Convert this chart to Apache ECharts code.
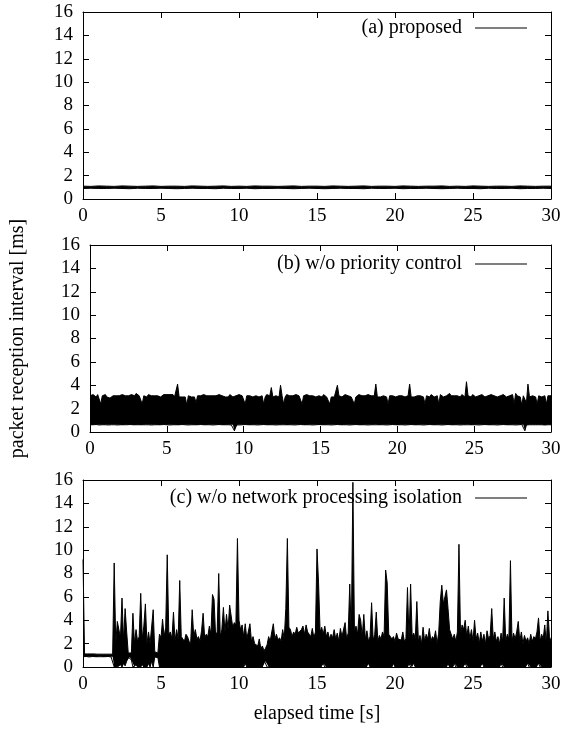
<!DOCTYPE html>
<html>
<head>
<meta charset="utf-8">
<script src="https://cdn.jsdelivr.net/npm/echarts@6/dist/echarts.min.js"></script>
<style>
  html, body { margin: 0; padding: 0; background: #fff; }
  #cn { width: 565px; height: 729px; }
</style>
</head>
<body>
<div id="cn"></div>
<script>
'use strict';

/*
 * packet reception interval, 3 panels
 * each trace is given as an envelope (min / max of the interval) per sampling step
 */

// sampling step of each envelope [s]
const stepA = 0.5;
const stepB = 0.1;
const stepC = 0.1;

// (a) proposed
const highA = [
    1.1, 1.08, 1.12, 1.1, 1.08, 1.12, 1.1, 1.08, 1.1, 1.12,
    1.08, 1.1, 1.1, 1.08, 1.12, 1.1, 1.08, 1.1, 1.12, 1.08,
    1.1, 1.08, 1.12, 1.1, 1.1, 1.08, 1.1, 1.12, 1.08, 1.1,
    1.1, 1.08, 1.12, 1.1, 1.08, 1.1, 1.12, 1.08, 1.1, 1.1,
    1.08, 1.12, 1.1, 1.08, 1.1, 1.1, 1.12, 1.08, 1.1, 1.08,
    1.12, 1.1, 1.08, 1.1, 1.1, 1.08, 1.12, 1.1, 1.08, 1.1,
    1.1
];
const lowA = [
    0.9, 0.92, 0.9, 0.9, 0.92, 0.9, 0.88, 0.92, 0.9, 0.9,
    0.92, 0.9, 0.88, 0.9, 0.92, 0.9, 0.9, 0.88, 0.92, 0.9,
    0.9, 0.92, 0.88, 0.9, 0.9, 0.92, 0.9, 0.88, 0.9, 0.92,
    0.9, 0.88, 0.9, 0.92, 0.9, 0.9, 0.88, 0.92, 0.9, 0.9,
    0.92, 0.88, 0.9, 0.9, 0.92, 0.9, 0.88, 0.9, 0.92, 0.9,
    0.9, 0.88, 0.92, 0.9, 0.9, 0.92, 0.88, 0.9, 0.9, 0.92,
    0.9
];

// (b) w/o priority control
const highB = [
    3.1, 3.0, 3.2, 3.1, 3.0, 3.2, 3.1, 2.4, 3.1, 3.2,
    3.2, 3.0, 3.1, 2.9, 3.0, 3.1, 3.2, 3.1, 3.0, 3.1,
    3.0, 3.2, 3.1, 3.1, 3.0, 3.1, 3.0, 3.2, 3.1, 3.1,
    3.3, 3.2, 3.1, 3.0, 2.4, 3.1, 3.1, 3.0, 3.2, 3.1,
    3.1, 3.0, 3.1, 3.2, 3.1, 3.0, 3.0, 3.1, 3.2, 3.1,
    3.2, 3.3, 3.2, 3.1, 3.2, 3.0, 3.1, 4.1, 3.0, 3.1,
    3.0, 3.1, 3.0, 2.3, 3.1, 3.1, 3.0, 3.1, 3.0, 2.5,
    3.1, 3.0, 3.1, 3.0, 3.2, 3.1, 3.1, 3.0, 3.1, 3.0,
    3.1, 3.2, 3.1, 3.1, 3.2, 3.3, 3.1, 3.2, 3.0, 3.1,
    3.0, 3.2, 3.1, 3.0, 3.1, 3.1, 3.0, 3.2, 3.1, 3.1,
    3.0, 2.4, 3.1, 3.0, 3.1, 3.1, 3.0, 2.9, 3.1, 3.2,
    3.0, 3.1, 3.1, 2.4, 3.0, 3.2, 3.1, 3.1, 3.8, 3.0,
    3.0, 3.1, 3.1, 3.0, 4.0, 3.1, 2.4, 3.0, 3.2, 3.1,
    3.1, 3.0, 3.1, 3.0, 3.2, 3.1, 3.1, 3.0, 2.4, 3.1,
    3.1, 3.2, 3.3, 3.1, 3.2, 3.1, 3.1, 3.0, 3.0, 3.1,
    3.1, 3.0, 3.2, 3.1, 3.0, 3.1, 2.4, 3.0, 3.1, 3.0,
    3.1, 4.0, 3.1, 3.0, 3.0, 3.1, 3.2, 3.1, 3.1, 3.0,
    3.0, 3.1, 2.4, 3.0, 3.1, 3.2, 3.2, 3.1, 3.0, 3.1,
    3.1, 3.2, 3.3, 3.1, 3.2, 3.1, 4.1, 3.0, 3.1, 3.0,
    3.0, 3.1, 3.1, 3.0, 2.4, 3.1, 3.2, 3.1, 3.1, 3.0,
    3.0, 3.1, 3.2, 3.1, 3.1, 3.0, 3.0, 3.1, 4.1, 3.0,
    3.1, 3.0, 3.0, 3.1, 3.2, 3.1, 3.1, 3.0, 2.4, 3.1,
    3.1, 3.0, 3.2, 3.1, 3.0, 3.1, 3.1, 2.4, 3.2, 3.1,
    3.0, 3.1, 3.1, 3.0, 3.3, 3.1, 3.2, 3.1, 3.0, 3.1,
    3.1, 3.0, 3.2, 3.1, 3.0, 4.3, 3.1, 3.1, 3.0, 3.2,
    3.1, 3.0, 3.1, 3.1, 3.0, 3.2, 3.1, 3.0, 3.1, 3.1,
    3.0, 3.2, 3.1, 3.1, 3.0, 3.0, 3.1, 3.1, 3.0, 3.2,
    3.1, 3.0, 3.1, 3.1, 3.0, 3.2, 2.4, 3.3, 3.1, 3.1,
    3.0, 2.3, 3.1, 3.0, 2.5, 4.1, 3.0, 3.0, 3.1, 3.1,
    3.0, 2.4, 3.1, 3.1, 3.0, 3.0, 3.1, 2.4, 3.1, 3.2,
    3.1
];
const lowB = [
    0.62, 0.6, 0.62, 0.62, 0.64, 0.62, 0.6, 0.62, 0.62, 0.62,
    0.62, 0.62, 0.6, 0.62, 0.62, 0.64, 0.62, 0.62, 0.6, 0.62,
    0.62, 0.6, 0.62, 0.62, 0.62, 0.62, 0.64, 0.62, 0.62, 0.6,
    0.62, 0.62, 0.62, 0.6, 0.62, 0.62, 0.62, 0.64, 0.62, 0.62,
    0.6, 0.62, 0.62, 0.62, 0.62, 0.6, 0.62, 0.62, 0.64, 0.62,
    0.62, 0.62, 0.6, 0.62, 0.62, 0.62, 0.62, 0.6, 0.62, 0.62,
    0.64, 0.62, 0.62, 0.62, 0.6, 0.62, 0.62, 0.62, 0.62, 0.6,
    0.62, 0.62, 0.64, 0.62, 0.62, 0.6, 0.62, 0.62, 0.62, 0.62,
    0.6, 0.62, 0.62, 0.62, 0.64, 0.62, 0.62, 0.6, 0.62, 0.62,
    0.62, 0.62, 0.6, 0.62, 0.1, 0.62, 0.62, 0.6, 0.62, 0.62,
    0.62, 0.64, 0.62, 0.62, 0.6, 0.62, 0.62, 0.62, 0.62, 0.6,
    0.62, 0.62, 0.62, 0.64, 0.62, 0.62, 0.6, 0.62, 0.62, 0.62,
    0.62, 0.6, 0.62, 0.62, 0.62, 0.62, 0.64, 0.62, 0.6, 0.62,
    0.62, 0.62, 0.62, 0.6, 0.62, 0.62, 0.62, 0.64, 0.62, 0.62,
    0.6, 0.62, 0.62, 0.62, 0.62, 0.6, 0.62, 0.62, 0.62, 0.64,
    0.62, 0.62, 0.6, 0.62, 0.62, 0.62, 0.62, 0.6, 0.62, 0.62,
    0.62, 0.64, 0.62, 0.62, 0.6, 0.62, 0.62, 0.62, 0.62, 0.6,
    0.62, 0.62, 0.62, 0.64, 0.62, 0.62, 0.6, 0.62, 0.62, 0.62,
    0.62, 0.6, 0.62, 0.62, 0.62, 0.62, 0.64, 0.62, 0.6, 0.62,
    0.62, 0.62, 0.62, 0.6, 0.62, 0.62, 0.62, 0.64, 0.62, 0.62,
    0.6, 0.62, 0.62, 0.62, 0.62, 0.6, 0.62, 0.62, 0.62, 0.64,
    0.62, 0.62, 0.6, 0.62, 0.62, 0.62, 0.62, 0.6, 0.62, 0.62,
    0.62, 0.64, 0.62, 0.62, 0.6, 0.62, 0.62, 0.62, 0.62, 0.6,
    0.62, 0.62, 0.62, 0.64, 0.62, 0.62, 0.6, 0.62, 0.62, 0.62,
    0.62, 0.6, 0.62, 0.62, 0.62, 0.62, 0.64, 0.62, 0.6, 0.62,
    0.62, 0.62, 0.62, 0.6, 0.62, 0.62, 0.62, 0.64, 0.62, 0.62,
    0.6, 0.62, 0.62, 0.62, 0.62, 0.6, 0.62, 0.62, 0.62, 0.64,
    0.62, 0.62, 0.6, 0.62, 0.62, 0.62, 0.62, 0.6, 0.62, 0.62,
    0.62, 0.64, 0.62, 0.1, 0.6, 0.62, 0.62, 0.62, 0.62, 0.6,
    0.62, 0.62, 0.62, 0.64, 0.62, 0.62, 0.6, 0.62, 0.62, 0.62,
    0.62
];

// (c) w/o network processing isolation
const highC = [
    9.2, 1.12, 1.1, 1.12, 1.1, 1.12, 1.1, 1.12, 1.12, 1.1,
    1.12, 1.1, 1.12, 1.1, 1.12, 1.1, 1.12, 1.1, 1.12, 1.1,
    8.9, 2.0, 3.9, 4.0, 2.5, 5.9, 2.2, 5.0, 3.0, 1.2,
    1.15, 1.2, 4.6, 2.0, 3.2, 2.2, 2.6, 6.3, 2.4, 3.5,
    5.4, 2.0, 3.0, 2.0, 2.0, 4.9, 1.3, 1.15, 1.2, 2.8,
    2.5, 4.1, 2.6, 3.4, 9.6, 2.8, 3.0, 2.4, 4.7, 2.2,
    3.2, 2.4, 7.4, 2.6, 2.5, 2.2, 2.8, 2.6, 2.2, 2.0,
    4.9, 2.6, 3.2, 2.4, 2.6, 2.2, 3.1, 4.6, 2.5, 2.8,
    2.6, 3.5, 2.8, 6.2, 5.8, 2.7, 3.0, 8.0, 2.6, 3.2,
    5.1, 3.0, 4.5, 3.2, 5.3, 5.4, 3.4, 3.8, 3.6, 11.0,
    4.0, 3.2, 3.6, 2.6, 3.7, 2.4, 2.5, 3.7, 2.2, 2.6,
    2.0, 2.0, 1.8, 2.4, 1.6, 1.8, 1.4, 1.6, 1.9, 2.6,
    2.2, 3.0, 3.7, 2.4, 2.8, 2.3, 2.5, 2.2, 3.2, 2.4,
    5.0, 11.0, 3.4, 3.2, 2.6, 3.0, 2.8, 3.4, 2.9, 3.0,
    3.2, 3.5, 2.8, 3.6, 3.0, 2.8, 2.6, 3.3, 2.5, 3.0,
    10.1, 7.2, 3.0, 3.4, 2.8, 3.5, 2.6, 3.0, 2.4, 2.8,
    2.5, 3.2, 2.4, 2.9, 2.2, 3.3, 2.6, 2.7, 3.8, 2.4,
    2.9, 7.1, 2.6, 15.8, 3.0, 3.5, 2.8, 4.5, 4.0, 2.6,
    4.5, 2.4, 3.1, 2.2, 2.6, 5.5, 2.3, 2.8, 4.7, 2.2,
    2.7, 2.4, 3.0, 2.6, 8.3, 7.2, 2.8, 2.8, 2.4, 2.6,
    2.2, 2.9, 2.4, 2.5, 2.3, 3.0, 2.2, 2.4, 6.8, 2.4,
    7.1, 2.6, 2.9, 2.4, 5.6, 2.2, 2.7, 2.0, 3.4, 2.2,
    2.8, 2.4, 3.3, 2.2, 2.6, 2.4, 3.1, 2.0, 2.9, 5.6,
    7.0, 5.4, 5.5, 6.6, 5.0, 3.2, 3.2, 2.4, 2.8, 2.2,
    3.0, 10.5, 2.8, 3.6, 3.2, 4.0, 2.6, 3.5, 2.4, 3.2,
    2.2, 4.0, 2.4, 2.9, 2.0, 3.0, 2.2, 2.8, 2.0, 3.1,
    2.4, 2.7, 5.0, 2.4, 3.0, 2.2, 2.6, 2.0, 2.9, 2.2,
    5.9, 2.2, 2.8, 2.4, 9.1, 2.2, 2.9, 2.4, 3.0, 3.9,
    2.2, 3.0, 2.0, 2.7, 2.2, 2.5, 2.0, 2.8, 2.2, 2.6,
    2.4, 3.0, 4.2, 2.2, 2.8, 2.4, 3.6, 2.0, 4.8, 2.6,
    2.2
];
const lowC = [
    0.88, 0.88, 0.9, 0.88, 0.86, 0.88, 0.9, 0.88, 0.88, 0.86,
    0.88, 0.9, 0.88, 0.86, 0.88, 0.88, 0.9, 0.88, 0.86, 0.88,
    0, 0, 0, 0.1, 0.2, 0, 0.3, 0.1, 0.5, 0.85,
    0.86, 0.6, 0, 0, 0.2, 0, 0, 0, 0.2, 0,
    0, 0, 0.3, 0, 0.5, 0, 0.85, 0.88, 0.8, 0,
    0, 0, 0, 0, 0, 0, 0, 0, 0, 0,
    0, 0, 0, 0, 0, 0, 0, 0, 0, 0,
    0, 0, 0, 0, 0, 0, 0, 0, 0, 0,
    0, 0, 0, 0, 0, 0, 0, 0, 0, 0,
    0, 0, 0, 0, 0, 0, 0, 0, 0, 0,
    0, 0, 0, 0, 0.3, 0, 0, 0, 0, 0,
    0, 0, 0, 0, 0, 0, 0.6, 0.5, 0, 0,
    0, 0, 0, 0, 0, 0, 0, 0, 0, 0,
    0, 0, 0, 0, 0, 0, 0, 0, 0, 0,
    0, 0, 0, 0, 0, 0, 0, 0, 0, 0,
    0, 0, 0, 0, 0.3, 0, 0, 0, 0, 0,
    0, 0, 0, 0, 0, 0, 0, 0, 0, 0,
    0, 0, 0, 0, 0, 0, 0, 0, 0, 0,
    0, 0, 0, 0.3, 0, 0, 0, 0, 0, 0,
    0, 0, 0, 0, 0, 0, 0, 0, 0, 0.3,
    0, 0, 0, 0, 0, 0, 0, 0, 0, 0.3,
    0, 0, 0.3, 0, 0, 0, 0, 0, 0, 0,
    0, 0, 0, 0, 0, 0, 0, 0, 0, 0,
    0, 0, 0, 0, 0.3, 0, 0, 0, 0.3, 0,
    0, 0, 0, 0, 0, 0.3, 0, 0, 0, 0,
    0, 0, 0, 0, 0, 0, 0.3, 0, 0, 0,
    0, 0, 0, 0, 0, 0, 0, 0, 0.3, 0,
    0, 0, 0, 0, 0, 0, 0, 0, 0, 0,
    0, 0, 0, 0, 0, 0.3, 0, 0, 0, 0,
    0, 0, 0.3, 0, 0, 0, 0, 0, 0, 0,
    0
];

const seriesNames = ['(a) proposed', '(b) w/o priority control', '(c) w/o network processing isolation'];
const envelopes = [
    { step: stepA, high: highA, low: lowA },
    { step: stepB, high: highB, low: lowB },
    { step: stepC, high: highC, low: lowC }
];

const xTicks = { min: 0, max: 30, interval: 5 };
const yTicks = { min: 0, max: 16, interval: 2 };

const FONT = 'Liberation Serif';
const gridTops = [12, 245, 480];
const legendTops = [12, 248, 482];

const axisBase = {
    axisLine: { show: true, onZero: false, lineStyle: { color: '#000', width: 1 } },
    axisTick: { show: true, inside: true, length: 6, lineStyle: { color: '#000', width: 1 } },
    splitLine: { show: false }
};
const nameStyle = { color: '#000', fontFamily: FONT, fontSize: 20 };

let grid = [], xAxis = [], yAxis = [], series = [], legend = [];

seriesNames.forEach((name, g) => {
    const env = envelopes[g];
    const t = i => +(i * env.step).toFixed(1);

    grid.push({ left: 83, width: 468, top: gridTops[g], height: 187 });

    // bottom + mirrored top
    xAxis.push(Object.assign({}, axisBase, xTicks, {
        gridIndex: g, type: 'value', position: 'bottom',
        axisLabel: { color: '#000', fontFamily: FONT, fontSize: 19, margin: 8 },
        name: g === 2 ? 'elapsed time [s]' : '',
        nameLocation: 'middle', nameGap: 37,
        nameTextStyle: nameStyle
    }));
    xAxis.push(Object.assign({}, axisBase, xTicks, {
        gridIndex: g, type: 'value', position: 'top', axisLabel: { show: false }
    }));

    // left + mirrored right
    yAxis.push(Object.assign({}, axisBase, yTicks, {
        gridIndex: g, type: 'value', position: 'left',
        axisLabel: { color: '#000', fontFamily: FONT, fontSize: 19, margin: 10 },
        name: g === 1 ? 'packet reception interval [ms]' : '',
        nameLocation: 'middle', nameGap: 62,
        nameTextStyle: nameStyle
    }));
    yAxis.push(Object.assign({}, axisBase, yTicks, {
        gridIndex: g, type: 'value', position: 'right', axisLabel: { show: false }
    }));

    // rows are [value, time] so that the stack runs on the value dimension
    const common = {
        type: 'line',
        xAxisIndex: 2 * g,
        yAxisIndex: 2 * g,
        stack: 'env' + g,
        encode: { x: 1, y: 0 },
        symbol: 'none',
        color: '#000',
        lineStyle: { color: '#000', width: 1 }
    };
    // min of the trace, then (max - min) stacked on it and filled
    series.push(Object.assign({}, common, {
        name: name + ' min',
        data: env.low.map((v, i) => [v, t(i)])
    }));
    series.push(Object.assign({}, common, {
        name: name,
        data: env.high.map((v, i) => [+(v - env.low[i]).toFixed(2), t(i)]),
        areaStyle: { color: '#000', opacity: 1 }
    }));

    legend.push({
        data: [name],
        right: 33,
        top: legendTops[g],
        align: 'right',
        icon: 'rect',
        itemWidth: 52,
        itemHeight: 1,
        selectedMode: false,
        textStyle: { color: '#000', fontFamily: FONT, fontSize: 20, lineHeight: 22, padding: [0, 8, 0, 0] }
    });
});

const chart = echarts.init(document.getElementById('cn'));
chart.setOption({
    animation: false,
    backgroundColor: '#fff',
    grid: grid,
    xAxis: xAxis,
    yAxis: yAxis,
    legend: legend,
    series: series
});
</script>
</body>
</html>
